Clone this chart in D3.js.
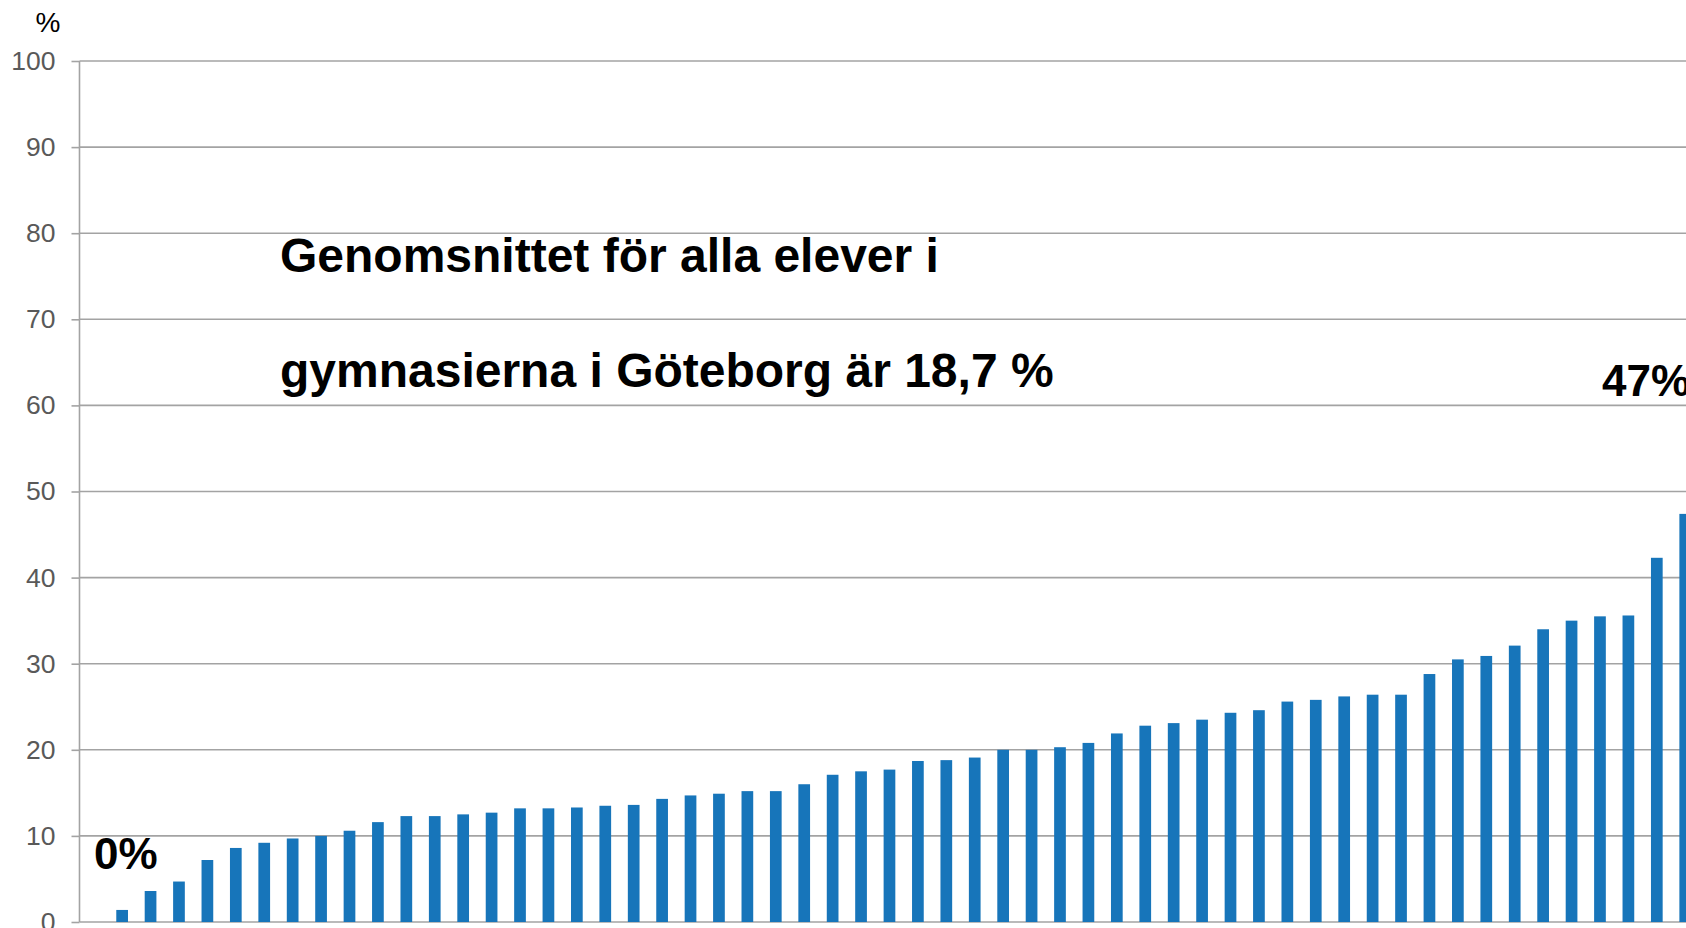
<!DOCTYPE html>
<html>
<head>
<meta charset="utf-8">
<script src="https://cdn.jsdelivr.net/npm/d3@7"></script>
<style>
  html, body { margin: 0; padding: 0; background: #fff; }
  svg { display: block; }
  text { font-family: "Liberation Sans", Arial, sans-serif; }
</style>
</head>
<body>
<div id="chart"></div>
<script>
// 学校ごとの割合（%）、低い順
var schools = d3.range(1, 58).map(function(i) { return 'Skola ' + i; });
var shares = [
  0, 1.4, 3.6, 4.7, 7.2, 8.6, 9.2, 9.7, 10.0, 10.6,
  11.6, 12.3, 12.3, 12.5, 12.7, 13.2, 13.2, 13.3, 13.5, 13.6,
  14.3, 14.7, 14.9, 15.2, 15.2, 16.0, 17.1, 17.5, 17.7, 18.7,
  18.8, 19.1, 20.0, 20.0, 20.3, 20.8, 21.9, 22.8, 23.1, 23.5,
  24.3, 24.6, 25.6, 25.8, 26.2, 26.4, 26.4, 28.8, 30.5, 30.9,
  32.1, 34.0, 35.0, 35.5, 35.6, 42.3, 47.4
];
var yTicks = [0, 10, 20, 30, 40, 50, 60, 70, 80, 90, 100];

// 注釈テキスト
var noteLines = ['Genomsnittet för alla elever i', 'gymnasierna i Göteborg är 18,7 %'];
var minLabel = '0%';
var maxLabel = '47%';

// 領域のサイズ
var width = 1686;
var height = 928;

// 軸の位置（右端は画面外まで続く）
var axisX = 79.5;
var step = 28.42;
var yBottom = 922;
var yTop = 61;

var barColor = '#1775ba';
var gridColor = '#a3a3a3';
var labelColor = '#595959';

var svg = d3.select('#chart').append('svg')
  .attr('width', width)
  .attr('height', height);

var x = d3.scaleBand()
  .domain(schools)
  .range([axisX, axisX + step * schools.length])
  .paddingInner(0.588)
  .paddingOuter(0.294);

var y = d3.scaleLinear()
  .domain([0, 100])
  .range([yBottom, yTop]);

// 横のグリッド線
svg.append('g')
  .selectAll('line')
  .data(yTicks)
  .enter()
  .append('line')
  .attr('x1', axisX)
  .attr('x2', width)
  .attr('y1', function(d) { return y(d); })
  .attr('y2', function(d) { return y(d); })
  .attr('stroke', gridColor)
  .attr('stroke-width', 1.6);

// 棒
svg.append('g')
  .selectAll('rect')
  .data(shares)
  .enter()
  .append('rect')
  .attr('x', function(d, i) { return x(schools[i]); })
  .attr('y', function(d) { return y(d); })
  .attr('width', x.bandwidth())
  .attr('height', function(d) { return yBottom - y(d); })
  .attr('fill', barColor);

// Y軸
var yAxis = d3.axisLeft(y)
  .tickValues(yTicks)
  .tickSize(8)
  .tickPadding(16)
  .tickFormat(d3.format('d'));

var yG = svg.append('g')
  .attr('transform', 'translate(' + axisX + ',0)')
  .call(yAxis);

yG.select('.domain')
  .attr('stroke', gridColor)
  .attr('stroke-width', 1.6)
  .attr('d', 'M0,' + yTop + 'V' + yBottom);
yG.selectAll('.tick line')
  .attr('stroke', gridColor)
  .attr('stroke-width', 1.6);
yG.selectAll('.tick text')
  .attr('fill', labelColor)
  .attr('font-size', 26.5)
  .attr('font-family', '"Liberation Sans", Arial, sans-serif');

// 単位
svg.append('text')
  .attr('x', 48)
  .attr('y', 32)
  .attr('text-anchor', 'middle')
  .attr('font-size', 28)
  .attr('fill', '#000')
  .text('%');

// 平均値の注釈
svg.append('g')
  .selectAll('text')
  .data(noteLines)
  .enter()
  .append('text')
  .attr('x', 280)
  .attr('y', function(d, i) { return 272 + i * 115; })
  .attr('font-size', 48)
  .attr('font-weight', 'bold')
  .attr('fill', '#000')
  .text(function(d) { return d; });

// 最小・最大のラベル
svg.append('text')
  .attr('x', 94)
  .attr('y', 869)
  .attr('font-size', 44)
  .attr('font-weight', 'bold')
  .attr('fill', '#000')
  .text(minLabel);

svg.append('text')
  .attr('x', 1602)
  .attr('y', 396)
  .attr('font-size', 44)
  .attr('font-weight', 'bold')
  .attr('fill', '#000')
  .text(maxLabel);
</script>
</body>
</html>
